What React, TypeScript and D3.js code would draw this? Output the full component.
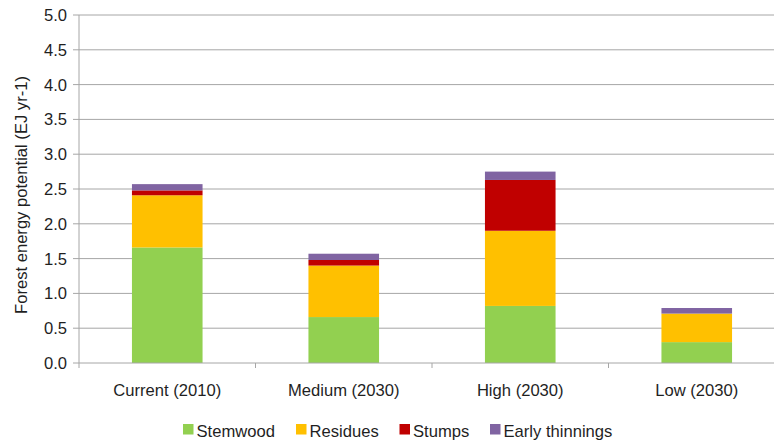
import React from "react";
import * as d3 from "d3";

const categories = ["Current (2010)", "Medium (2030)", "High (2030)", "Low (2030)"];
const seriesNames = ["Stemwood", "Residues", "Stumps", "Early thinnings"];
const stemwood = [1.66, 0.66, 0.82, 0.3];
const residues = [0.75, 0.74, 1.08, 0.41];
const stumps = [0.07, 0.08, 0.73, 0.0];
const earlyThinnings = [0.09, 0.09, 0.12, 0.08];
const yTicks = [0, 0.5, 1, 1.5, 2, 2.5, 3, 3.5, 4, 4.5, 5];
const colors = ["#92D050", "#FFC000", "#C00000", "#8064A2"];

const W = 774;
const H = 443;
const left = 79;
const right = 785;
const top = 15;
const bottom = 363;

export default function App() {
  const x = d3.scaleBand<string>().domain(categories).range([left, right]).paddingInner(0.6).paddingOuter(0.3);
  const y = d3.scaleLinear().domain([0, 5]).range([bottom, top]);

  const rows = categories.map((c, i) => ({
    cat: c,
    Stemwood: stemwood[i],
    Residues: residues[i],
    Stumps: stumps[i],
    "Early thinnings": earlyThinnings[i],
  }));
  const stacked = d3.stack<any>().keys(seriesNames)(rows);
  const step = (right - left) / categories.length;
  const font = "'Liberation Sans', Arial, sans-serif";
  const fs = 16.6;
  const textColor = "#1f1f1f";

  const legendItems = [
    { name: "Stemwood", x: 183 },
    { name: "Residues", x: 296 },
    { name: "Stumps", x: 399.5 },
    { name: "Early thinnings", x: 490 },
  ];

  return (
    <svg width={W} height={H} style={{ position: "absolute", left: 0, top: 0, background: "#fff" }} fontFamily={font}>
      {yTicks.map((t) => (
        <g key={t}>
          {t > 0 && <line x1={left} x2={right} y1={y(t)} y2={y(t)} stroke="#a6a6a6" strokeWidth={1} />}
          <line x1={left - 6} x2={left} y1={y(t)} y2={y(t)} stroke="#a6a6a6" strokeWidth={1} />
          <text x={67} y={y(t)} dy="0.36em" textAnchor="end" fontSize={fs} fill={textColor}>
            {t.toFixed(1)}
          </text>
        </g>
      ))}
      {stacked.map((s, si) => (
        <g key={s.key} fill={colors[si]}>
          {s.map((d, i) => (
            <rect
              key={i}
              x={x(categories[i])}
              width={x.bandwidth()}
              y={y(d[1])}
              height={Math.max(0, y(d[0]) - y(d[1]))}
            />
          ))}
        </g>
      ))}
      <line x1={left} x2={left} y1={top} y2={bottom} stroke="#a6a6a6" />
      <line x1={left} x2={right} y1={bottom} y2={bottom} stroke="#a6a6a6" />
      {d3.range(categories.length + 1).map((i) => (
        <line key={i} x1={left + i * step} x2={left + i * step} y1={bottom} y2={bottom + 5} stroke="#a6a6a6" />
      ))}
      {categories.map((c) => (
        <text key={c} x={(x(c) as number) + x.bandwidth() / 2} y={396} textAnchor="middle" fontSize={fs} fill={textColor}>
          {c}
        </text>
      ))}
      <text
        transform={`translate(27,195) rotate(-90)`}
        textAnchor="middle"
        fontSize={fs}
        fill={textColor}
      >
        Forest energy potential (EJ yr-1)
      </text>
      {legendItems.map((l, i) => (
        <g key={l.name}>
          <rect x={l.x} y={424} width={10.5} height={10.5} fill={colors[i]} />
          <text x={l.x + 13.5} y={437} fontSize={fs} fill={textColor}>
            {l.name}
          </text>
        </g>
      ))}
    </svg>
  );
}
